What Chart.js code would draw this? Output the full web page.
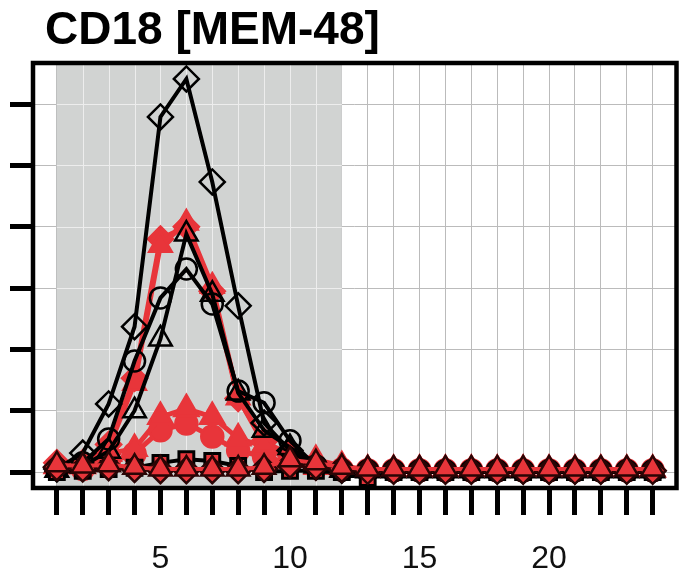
<!DOCTYPE html>
<html>
<head>
<meta charset="utf-8">
<script src="https://cdn.jsdelivr.net/npm/chart.js@4/dist/chart.umd.min.js"></script>
<style>
  html, body { margin: 0; padding: 0; background: #fff; }
  #wrap { width: 693px; height: 576px; }
</style>
</head>
<body>
<div id="wrap"><canvas id="c" width="693" height="576"></canvas></div>
<script>
const chartTitle = 'CD18 [MEM-48]';
const xValues = [1,2,3,4,5,6,7,8,9,10,11,12,13,14,15,16,17,18,19,20,21,22,23,24];
const xTickLabels = [5, 10, 15, 20];
const yTicks = [0, 1, 2, 3, 4, 5, 6];
const shadeRange = [1, 12];

const blackDiamond  = [0.05,0.31,1.11,2.37,5.79,6.41,4.73,2.71,0.80,0.35,0.08,0.03,0.02,0.02,0.02,0.02,0.02,0.02,0.02,0.02,0.02,0.02,0.02,0.02];
const blackCircle   = [0.05,0.15,0.54,1.81,2.84,3.31,2.74,1.32,1.13,0.51,0.10,0.03,0.02,0.02,0.02,0.02,0.02,0.02,0.02,0.02,0.02,0.02,0.02,0.02];
const blackTriangle = [0.03,0.10,0.34,1.00,2.17,3.88,2.90,1.29,0.68,0.40,0.10,0.03,0.02,0.02,0.02,0.02,0.02,0.02,0.02,0.02,0.02,0.02,0.02,0.02];
const blackSquare   = [0.00,0.02,0.05,0.07,0.15,0.21,0.18,0.10,0.00,0.02,0.02,0.00,-0.10,0.00,0.00,0.00,0.00,0.00,0.00,0.00,0.00,0.00,0.00,0.00];
const redDiamond    = [0.15,0.15,0.45,1.53,3.80,4.00,2.95,1.20,0.50,0.28,0.08,0.04,0.03,0.03,0.03,0.03,0.03,0.03,0.03,0.03,0.03,0.03,0.03,0.03];
const redTriangleA  = [0.10,0.10,0.40,1.45,3.70,4.06,3.03,1.21,0.45,0.25,0.08,0.04,0.03,0.03,0.03,0.03,0.03,0.03,0.03,0.03,0.03,0.03,0.03,0.03];
const redTriangleB  = [0.10,0.10,0.30,0.38,0.90,1.03,0.90,0.55,0.42,0.30,0.20,0.10,0.04,0.04,0.04,0.04,0.04,0.04,0.04,0.04,0.04,0.04,0.04,0.04];
const redCircle     = [0.05,0.05,0.15,0.30,0.68,0.79,0.58,0.35,0.25,0.15,0.08,0.04,0.03,0.03,0.03,0.03,0.03,0.03,0.03,0.03,0.03,0.03,0.03,0.03];
const baseTriangle  = [0.12,0.10,0.12,0.08,0.05,0.05,0.05,0.05,0.08,0.20,0.15,0.08,0.05,0.05,0.05,0.05,0.05,0.05,0.05,0.05,0.05,0.05,0.05,0.05];
const baseDiamond   = [0.08,0.06,0.08,0.05,0.03,0.03,0.03,0.03,0.05,0.12,0.10,0.05,0.02,0.02,0.02,0.02,0.02,0.02,0.02,0.02,0.02,0.02,0.02,0.02];

const RED = '#e8353a';
const DARK = '#2a0505';
const pts = arr => xValues.map((x, i) => ({x, y: arr[i]}));

function ds(data, style, opts) {
  return Object.assign({
    data: pts(data),
    pointStyle: style,
    pointRadius: 11,
    pointHoverRadius: 11,
    borderWidth: 4,
    pointBorderWidth: 2.5,
    tension: 0,
    fill: false
  }, opts);
}

const datasets = [
  ds(baseTriangle, 'triangle', {order: 1, borderColor: RED, pointBackgroundColor: RED, pointBorderColor: DARK, pointRadius: 13, pointBorderWidth: 2.5}),
  ds(baseDiamond, 'rectRot', {order: 2, borderColor: RED, pointBackgroundColor: RED, pointBorderColor: DARK, pointRadius: 13, pointBorderWidth: 2.5}),
  ds(blackSquare, 'rect', {order: 3, borderColor: '#000', pointBackgroundColor: RED, pointBorderColor: '#000', pointRadius: 10.5, pointBorderWidth: 3}),
  ds(blackDiamond, 'rectRot', {order: 4, borderColor: '#000', pointBackgroundColor: 'rgba(0,0,0,0)', pointBorderColor: '#000', pointRadius: 12.5}),
  ds(blackCircle, 'circle', {order: 5, borderColor: '#000', pointBackgroundColor: 'rgba(0,0,0,0)', pointBorderColor: '#000', pointRadius: 10.5}),
  ds(blackTriangle, 'triangle', {order: 6, borderColor: '#000', pointBackgroundColor: 'rgba(0,0,0,0)', pointBorderColor: '#000', pointRadius: 13}),
  ds(redTriangleA, 'triangle', {order: 7, borderColor: RED, borderWidth: 5, pointBackgroundColor: RED, pointBorderColor: RED, pointRadius: 13}),
  ds(redDiamond, 'rectRot', {order: 8, borderColor: RED, borderWidth: 5, pointBackgroundColor: RED, pointBorderColor: RED, pointRadius: 12.5}),
  ds(redTriangleB, 'triangle', {order: 9, borderColor: RED, borderWidth: 5, pointBackgroundColor: RED, pointBorderColor: RED, pointRadius: 14}),
  ds(redCircle, 'circle', {order: 10, borderColor: RED, borderWidth: 5, pointBackgroundColor: RED, pointBorderColor: RED, pointRadius: 11})
];

const shadePlugin = {
  id: 'shade',
  beforeDatasetsDraw(chart) {
    const {ctx, chartArea: a, scales: {x, y}} = chart;
    const x0 = x.getPixelForValue(shadeRange[0]);
    const x1 = x.getPixelForValue(shadeRange[1]);
    ctx.save();
    ctx.fillStyle = '#d1d3d2';
    ctx.fillRect(x0, a.top, x1 - x0, a.bottom - a.top);
    ctx.strokeStyle = '#ededed';
    ctx.lineWidth = 1;
    ctx.beginPath();
    xValues.forEach(v => {
      if (v > shadeRange[0] && v < shadeRange[1]) {
        const px = Math.round(x.getPixelForValue(v)) + 0.5;
        ctx.moveTo(px, a.top); ctx.lineTo(px, a.bottom);
      }
    });
    yTicks.forEach(v => {
      const py = Math.round(y.getPixelForValue(v)) + 0.5;
      ctx.moveTo(x0, py); ctx.lineTo(x1, py);
    });
    ctx.stroke();
    ctx.restore();
  },
  afterDraw(chart) {
    const {ctx, chartArea: a} = chart;
    ctx.save();
    ctx.strokeStyle = '#000';
    ctx.lineWidth = 4.5;
    ctx.strokeRect(a.left, a.top, a.right - a.left, a.bottom - a.top);
    ctx.fillStyle = '#000';
    ctx.font = 'bold 46px "Liberation Sans", Arial, sans-serif';
    ctx.textBaseline = 'alphabetic';
    ctx.textAlign = 'left';
    ctx.fillText(chartTitle, 45, 44);
    ctx.restore();
  }
};

new Chart(document.getElementById('c'), {
  type: 'line',
  data: { datasets },
  options: {
    responsive: false,
    animation: false,
    devicePixelRatio: 1,
    layout: { padding: { top: 63, right: 3, left: 0, bottom: 0 } },
    plugins: { legend: { display: false }, tooltip: { enabled: false }, title: { display: false } },
    scales: {
      x: {
        type: 'linear',
        min: 0.08, max: 24.92,
        afterBuildTicks: s => { s.ticks = xValues.map(v => ({value: v})); },
        afterFit: s => { s.height = 88; },
        grid: { color: '#bbbbbb', lineWidth: 1, drawTicks: true, tickLength: 27, tickWidth: 5, tickColor: '#000' },
        border: { display: false },
        ticks: {
          autoSkip: false,
          maxRotation: 0,
          padding: 25,
          color: '#111',
          font: { family: '"Liberation Sans", Arial, sans-serif', size: 32 },
          callback: v => xTickLabels.includes(v) ? String(v) : ''
        }
      },
      y: {
        type: 'linear',
        min: -0.26, max: 6.67,
        afterBuildTicks: s => { s.ticks = yTicks.map(v => ({value: v})); },
        afterFit: s => { s.width = 33; },
        grid: { color: '#bbbbbb', lineWidth: 1, drawTicks: true, tickLength: 23, tickWidth: 5, tickColor: '#000' },
        border: { display: false },
        ticks: { display: true, callback: () => '', padding: 0 }
      }
    }
  },
  plugins: [shadePlugin]
});
</script>
</body>
</html>
